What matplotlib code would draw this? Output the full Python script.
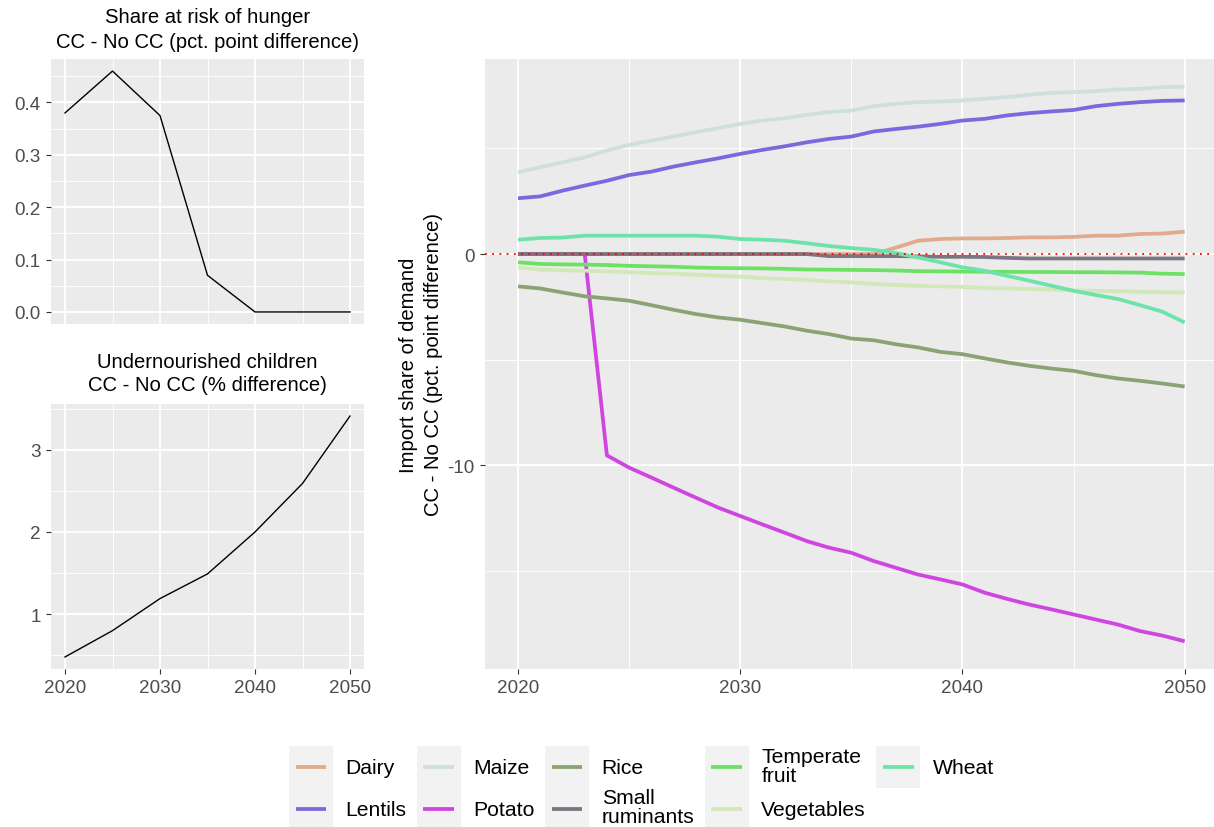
import matplotlib
matplotlib.use("Agg")
import matplotlib.pyplot as plt
from matplotlib.ticker import MultipleLocator, FormatStrFormatter, FixedLocator
from matplotlib.legend_handler import HandlerBase
from matplotlib.patches import Rectangle
from matplotlib.lines import Line2D

plt.rcParams["font.family"] = ["Liberation Sans", "DejaVu Sans"]
plt.rcParams["axes.unicode_minus"] = False

# ---------------------------------------------------------------- data
years = list(range(2020, 2051))

dairy = [0.00, 0.00, 0.00, 0.00, 0.00, 0.00, 0.00, 0.00, 0.00, 0.00,
         0.00, 0.00, 0.00, 0.00, 0.00, 0.00, 0.00, 0.30, 0.63, 0.71,
         0.74, 0.74, 0.76, 0.79, 0.79, 0.81, 0.87, 0.87, 0.95, 0.97, 1.06]
lentils = [2.64, 2.73, 3.00, 3.24, 3.47, 3.74, 3.90, 4.14, 4.34, 4.53,
           4.74, 4.93, 5.10, 5.29, 5.45, 5.56, 5.80, 5.92, 6.03, 6.16,
           6.32, 6.40, 6.56, 6.67, 6.75, 6.82, 7.00, 7.11, 7.19, 7.25, 7.27]
maize = [3.87, 4.11, 4.34, 4.58, 4.90, 5.17, 5.37, 5.56, 5.77, 5.96,
         6.16, 6.32, 6.43, 6.59, 6.72, 6.79, 7.00, 7.11, 7.19, 7.22,
         7.27, 7.35, 7.43, 7.54, 7.63, 7.66, 7.71, 7.79, 7.82, 7.90, 7.92]
potato = [0.00, 0.00, 0.00, 0.00, -9.53, -10.11, -10.58, -11.06, -11.53, -12.00,
          -12.40, -12.80, -13.19, -13.59, -13.90, -14.14, -14.53, -14.85, -15.17, -15.40,
          -15.64, -16.03, -16.32, -16.59, -16.82, -17.06, -17.30, -17.54, -17.85, -18.06, -18.33]
rice = [-1.53, -1.63, -1.82, -2.00, -2.10, -2.21, -2.42, -2.64, -2.84, -3.00,
        -3.11, -3.27, -3.43, -3.63, -3.79, -4.00, -4.08, -4.27, -4.42, -4.63,
        -4.74, -4.94, -5.13, -5.29, -5.42, -5.53, -5.73, -5.89, -6.00, -6.13, -6.27]
small_ruminants = [0.00, 0.00, 0.00, 0.00, 0.00, 0.00, 0.00, 0.00, 0.00, 0.00,
                   0.00, 0.00, 0.00, 0.00, -0.10, -0.10, -0.10, -0.10, -0.11, -0.13,
                   -0.13, -0.14, -0.18, -0.21, -0.21, -0.21, -0.21, -0.21, -0.21, -0.21, -0.21]
temperate_fruit = [-0.39, -0.47, -0.49, -0.50, -0.52, -0.56, -0.58, -0.60, -0.64, -0.66,
                   -0.67, -0.68, -0.70, -0.73, -0.74, -0.75, -0.76, -0.78, -0.81, -0.82,
                   -0.83, -0.84, -0.84, -0.85, -0.85, -0.86, -0.86, -0.87, -0.88, -0.93, -0.95]
vegetables = [-0.63, -0.74, -0.77, -0.79, -0.82, -0.86, -0.90, -0.93, -0.98, -1.03,
              -1.07, -1.14, -1.18, -1.22, -1.30, -1.34, -1.42, -1.46, -1.51, -1.53,
              -1.56, -1.60, -1.63, -1.65, -1.68, -1.72, -1.74, -1.76, -1.79, -1.81, -1.82]
wheat = [0.68, 0.76, 0.78, 0.87, 0.87, 0.87, 0.87, 0.87, 0.87, 0.82,
         0.71, 0.68, 0.63, 0.51, 0.38, 0.28, 0.20, 0.05, -0.16, -0.39,
         -0.63, -0.79, -1.03, -1.26, -1.50, -1.74, -1.94, -2.13, -2.42, -2.73, -3.24]

commodities = ["Dairy", "Lentils", "Maize", "Potato", "Rice",
               "Small\nruminants", "Temperate\nfruit", "Vegetables", "Wheat"]
series = [dairy, lentils, maize, potato, rice,
          small_ruminants, temperate_fruit, vegetables, wheat]
colors = ["#E0AA8C", "#7B68DD", "#CFDEDF", "#CF45E0", "#8BA274",
          "#7A7580", "#6BE262", "#D2E8B9", "#6DE3AA"]

summary_years = [2020, 2025, 2030, 2035, 2040, 2045, 2050]
hunger_share = [0.38, 0.46, 0.375, 0.07, 0.0, 0.0, 0.0]
undernourished = [0.48, 0.80, 1.19, 1.49, 2.00, 2.59, 3.41]

# ---------------------------------------------------------------- layout
W, H = 1214, 828
fig = plt.figure(figsize=(W / 100, H / 100), dpi=100)


def px_axes(x0, y0, x1, y1):
    return fig.add_axes([x0 / W, 1 - y1 / H, (x1 - x0) / W, (y1 - y0) / H])


def expanded(values, mult=0.05):
    lo, hi = min(values), max(values)
    pad = (hi - lo) * mult
    return lo - pad, hi + pad


TICK_SIZE = 13.6
TEXT_SIZE = 14.6
LEGEND_SIZE = 15.2


def style(ax):
    ax.set_facecolor("#EBEBEB")
    for s in ax.spines.values():
        s.set_visible(False)
    ax.set_axisbelow(True)
    ax.grid(True, which="major", color="white", lw=1.3)
    ax.grid(True, which="minor", color="white", lw=0.65)
    ax.tick_params(which="major", length=3.6, width=0.8, color="#333333",
                   labelcolor="#4D4D4D", labelsize=TICK_SIZE, pad=3.6)
    ax.tick_params(which="minor", length=0)
    ax.xaxis.set_major_locator(MultipleLocator(10))
    ax.xaxis.set_minor_locator(MultipleLocator(5))
    ax.set_xlim(*expanded(years))


# top left: share at risk of hunger
ax_h = px_axes(50.75, 60, 364.25, 325)
style(ax_h)
ax_h.plot(summary_years, hunger_share, color="black", lw=1.0)
ax_h.set_ylim(*expanded(hunger_share))
ax_h.yaxis.set_major_locator(MultipleLocator(0.1))
ax_h.yaxis.set_minor_locator(MultipleLocator(0.05))
ax_h.yaxis.set_major_formatter(FormatStrFormatter("%.1f"))
ax_h.tick_params(axis="x", which="major", length=0, labelbottom=False)
fig.text(207.5 / W, 1 - 30 / H,
         "Share at risk of hunger\nCC - No CC (pct. point difference)",
         ha="center", va="center", fontsize=TEXT_SIZE, linespacing=1.42)

# bottom left: undernourished children
ax_c = px_axes(50.75, 405, 364.25, 670)
style(ax_c)
ax_c.plot(summary_years, undernourished, color="black", lw=1.0)
ax_c.set_ylim(*expanded(undernourished))
ax_c.yaxis.set_major_locator(MultipleLocator(1))
ax_c.yaxis.set_minor_locator(FixedLocator([0.5, 1.5, 2.5, 3.5]))
ax_c.yaxis.set_major_formatter(FormatStrFormatter("%d"))
fig.text(207.5 / W, 1 - 374 / H,
         "Undernourished children\nCC - No CC (% difference)",
         ha="center", va="center", fontsize=TEXT_SIZE, linespacing=1.3)

# right: import share of demand by commodity
ax_r = px_axes(484.7, 60, 1218, 670)
style(ax_r)
handles = []
for name, vals, col in zip(commodities, series, colors):
    ln, = ax_r.plot(years, vals, color=col, lw=2.7, label=name,
                    solid_capstyle="butt", solid_joinstyle="miter")
    handles.append(ln)
ax_r.axhline(0, color="red", lw=1.3, ls=(0, (1, 3)), zorder=5)
all_vals = [v for s in series for v in s]
ax_r.set_ylim(*expanded(all_vals))
ax_r.yaxis.set_major_locator(MultipleLocator(10))
ax_r.yaxis.set_minor_locator(MultipleLocator(5))
ax_r.yaxis.set_major_formatter(FormatStrFormatter("%d"))
fig.text(421 / W, 1 - 365 / H,
         "Import share of demand\nCC - No CC (pct. point difference)",
         ha="center", va="center", rotation=90, fontsize=TEXT_SIZE,
         linespacing=1.4, multialignment="center")


# legend keys drawn on a light grey tile
class KeyTile(HandlerBase):
    def create_artists(self, legend, orig_handle, xdescent, ydescent,
                       width, height, fontsize, trans):
        tile_h = 1.98 * fontsize
        cy = -ydescent + height / 2
        bg = Rectangle((-xdescent, cy - tile_h / 2), width, tile_h,
                       facecolor="#F2F2F2", edgecolor="none", transform=trans)
        ln = Line2D([-xdescent + 0.15 * width, -xdescent + 0.85 * width], [cy, cy],
                    color=orig_handle.get_color(), lw=orig_handle.get_linewidth(),
                    solid_capstyle="butt", transform=trans)
        return [bg, ln]


leg = fig.legend(handles=handles, labels=commodities, ncol=5,
                 loc="upper left", bbox_to_anchor=(289 / W, 1 - 743 / H),
                 frameon=False, fontsize=LEGEND_SIZE, borderpad=0, borderaxespad=0,
                 handlelength=2.07, handleheight=3.3, labelspacing=-0.42,
                 handletextpad=0.6, columnspacing=0.5,
                 handler_map={Line2D: KeyTile()})
for t in leg.get_texts():
    t.set_linespacing(1.02)

fig.savefig("out.png", dpi=100)
